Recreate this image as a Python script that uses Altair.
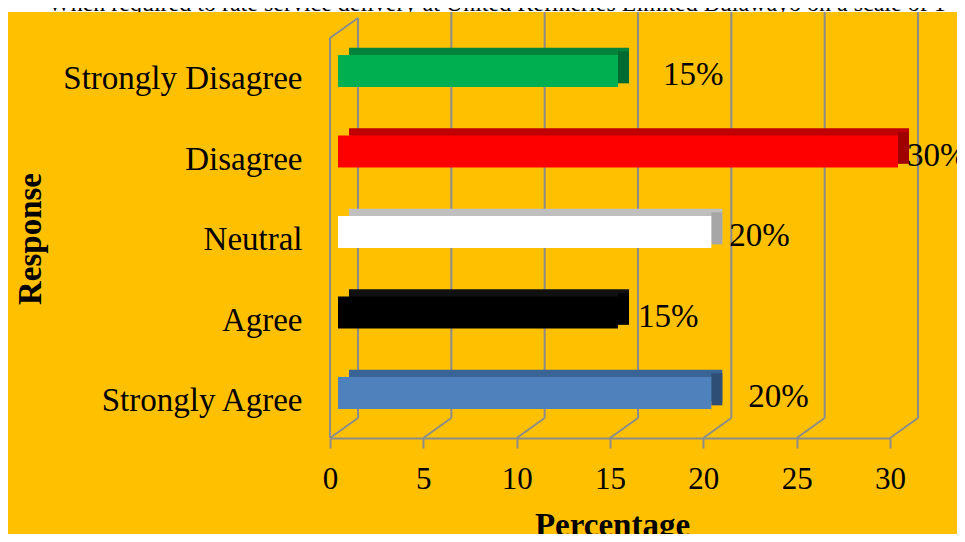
import altair as alt
import pandas as pd

# ---- data ----
categories = ["Strongly Disagree", "Disagree", "Neutral", "Agree", "Strongly Agree"]
percentages = [15, 30, 20, 15, 20]
label_text = ["15%", "30%", "20%", "15%", "20%"]
x_ticks = [0, 5, 10, 15, 20, 25, 30]
title_text = ("When required to rate service delivery at United Refineries "
              "Limited Bulawayo on a scale of 1 - 5")

# ---- styles ----
front_colors = ["#00B050", "#FF0000", "#FFFFFF", "#000000", "#4F81BD"]
top_colors = ["#00843C", "#C00000", "#BFBFBF", "#111111", "#3B6496"]
side_colors = ["#006B30", "#A00000", "#A6A6A6", "#000000", "#2E4E76"]
label_dx = [53, 17, 26, 28, 45]

FONT = "Liberation Serif"
GRID = "#8C8C8C"
BG = "#FFC000"
W, H, PB = 949, 430, 96        # svg = 949 x 526 (fits the window with the page margins)
DEPTH_X, DEPTH_Y = 28, 20      # floor depth (px)
BAR_IN = 8                     # bar front offset from front axis
BAR_DX, BAR_DY = 11, 7.3       # bar 3-D depth

df = pd.DataFrame({"cat": categories, "pct": percentages, "label": label_text,
                   "front": front_colors, "top": top_colors, "side": side_colors})
ticks_df = pd.DataFrame({"t": x_ticks})
title_df = pd.DataFrame({"title": [title_text]})

xscale = alt.Scale(domain=[0, 30], range=[322, 882], nice=False, zero=False)
yscale = alt.Scale(domain=categories, range=[22.75, 425.25], paddingInner=0, paddingOuter=0)

xaxis = alt.Axis(values=x_ticks, grid=False, domainColor=GRID, domainWidth=2,
                 tickColor=GRID, tickWidth=2, tickSize=10, zindex=2,
                 labelFont=FONT, labelFontSize=31, labelColor="black",
                 labelBaseline="alphabetic", labelPadding=40, labelFlush=False,
                 title="Percentage", titleFont=FONT, titleFontSize=33,
                 titleFontWeight="bold", titleColor="black",
                 titleX=604, titleY=97, titleBaseline="alphabetic", titleAlign="center")
yaxis = alt.Axis(domain=False, ticks=False, tickSize=0, offset=-322, zindex=2,
                 labelFont=FONT, labelFontSize=33, labelColor="black",
                 labelAlign="right", labelBaseline="alphabetic", labelOffset=18,
                 labelPadding=28, labelLimit=400,
                 title="Response", titleFont=FONT, titleFontSize=33,
                 titleFontWeight="bold", titleColor="black", titleAngle=270,
                 titleX=-290, titleY=230.5, titleBaseline="alphabetic", titleAlign="center")


def XT():
    return alt.X("t:Q", scale=xscale, axis=xaxis)


def XP():
    return alt.X("pct:Q", scale=xscale, axis=xaxis)


def YC():
    return alt.Y("cat:N", scale=yscale, axis=yaxis)


title = alt.Chart(title_df).mark_text(
    align="left", baseline="alphabetic", font=FONT, fontSize=24, color="black"
).encode(x=alt.value(40), y=alt.value(3), text="title:N")

bg = alt.Chart(title_df).mark_rect(color=BG).encode(
    x=alt.value(0), x2=alt.value(W), y=alt.value(4), y2=alt.value(H + PB))

tk = alt.Chart(ticks_df)

back_grid = tk.transform_filter("datum.t > 0").mark_rule(
    color=GRID, strokeWidth=2, xOffset=DEPTH_X
).encode(x=XT(), y=alt.value(4), y2=alt.value(H - DEPTH_Y))

back_zero = tk.transform_filter("datum.t == 0").mark_rule(
    color=GRID, strokeWidth=2, xOffset=DEPTH_X
).encode(x=XT(), y=alt.value(10), y2=alt.value(H - DEPTH_Y))

diagonals = tk.mark_rule(color=GRID, strokeWidth=2, x2Offset=DEPTH_X).encode(
    x=XT(), x2="t:Q", y=alt.value(H), y2=alt.value(H - DEPTH_Y))

front_wall = tk.transform_filter("datum.t == 0").mark_rule(
    color=GRID, strokeWidth=2
).encode(x=XT(), y=alt.value(30), y2=alt.value(H))

wall_top = tk.transform_filter("datum.t == 0").mark_rule(
    color=GRID, strokeWidth=2, x2Offset=DEPTH_X
).encode(x=XT(), x2="t:Q", y=alt.value(30), y2=alt.value(10))

base = alt.Chart(df)

bar_top = base.mark_bar(size=32, xOffset=BAR_IN + BAR_DX, x2Offset=BAR_IN + BAR_DX / 2,
                        yOffset=-BAR_DY).encode(
    x=XP(), y=YC(), fill=alt.Fill("top:N", scale=None))

bar_side = base.mark_bar(size=32, xOffset=BAR_IN, x2Offset=BAR_IN + BAR_DX,
                         yOffset=-BAR_DY / 2).encode(
    x=XP(), x2="pct:Q", y=YC(), fill=alt.Fill("side:N", scale=None))

bar_front = base.mark_bar(size=32, xOffset=BAR_IN, x2Offset=BAR_IN).encode(
    x=XP(), y=YC(), fill=alt.Fill("front:N", scale=None))

labels = []
for i, c in enumerate(categories):
    labels.append(
        base.transform_filter(alt.datum.cat == c).mark_text(
            align="left", baseline="alphabetic", dx=label_dx[i], dy=14,
            font=FONT, fontSize=33, color="black"
        ).encode(x=XP(), y=YC(), text="label:N")
    )

chart = alt.layer(
    title, bg, back_grid, back_zero, diagonals, front_wall, wall_top,
    bar_top, bar_side, bar_front, *labels
).properties(
    width=W, height=H,
    padding={"left": 0, "top": 0, "right": 0, "bottom": PB},
    autosize=alt.AutoSizeParams(type="none"),
    background="white",
).configure_view(stroke=None)

chart.save("out.html", embed_options={"renderer": "svg", "actions": False})
